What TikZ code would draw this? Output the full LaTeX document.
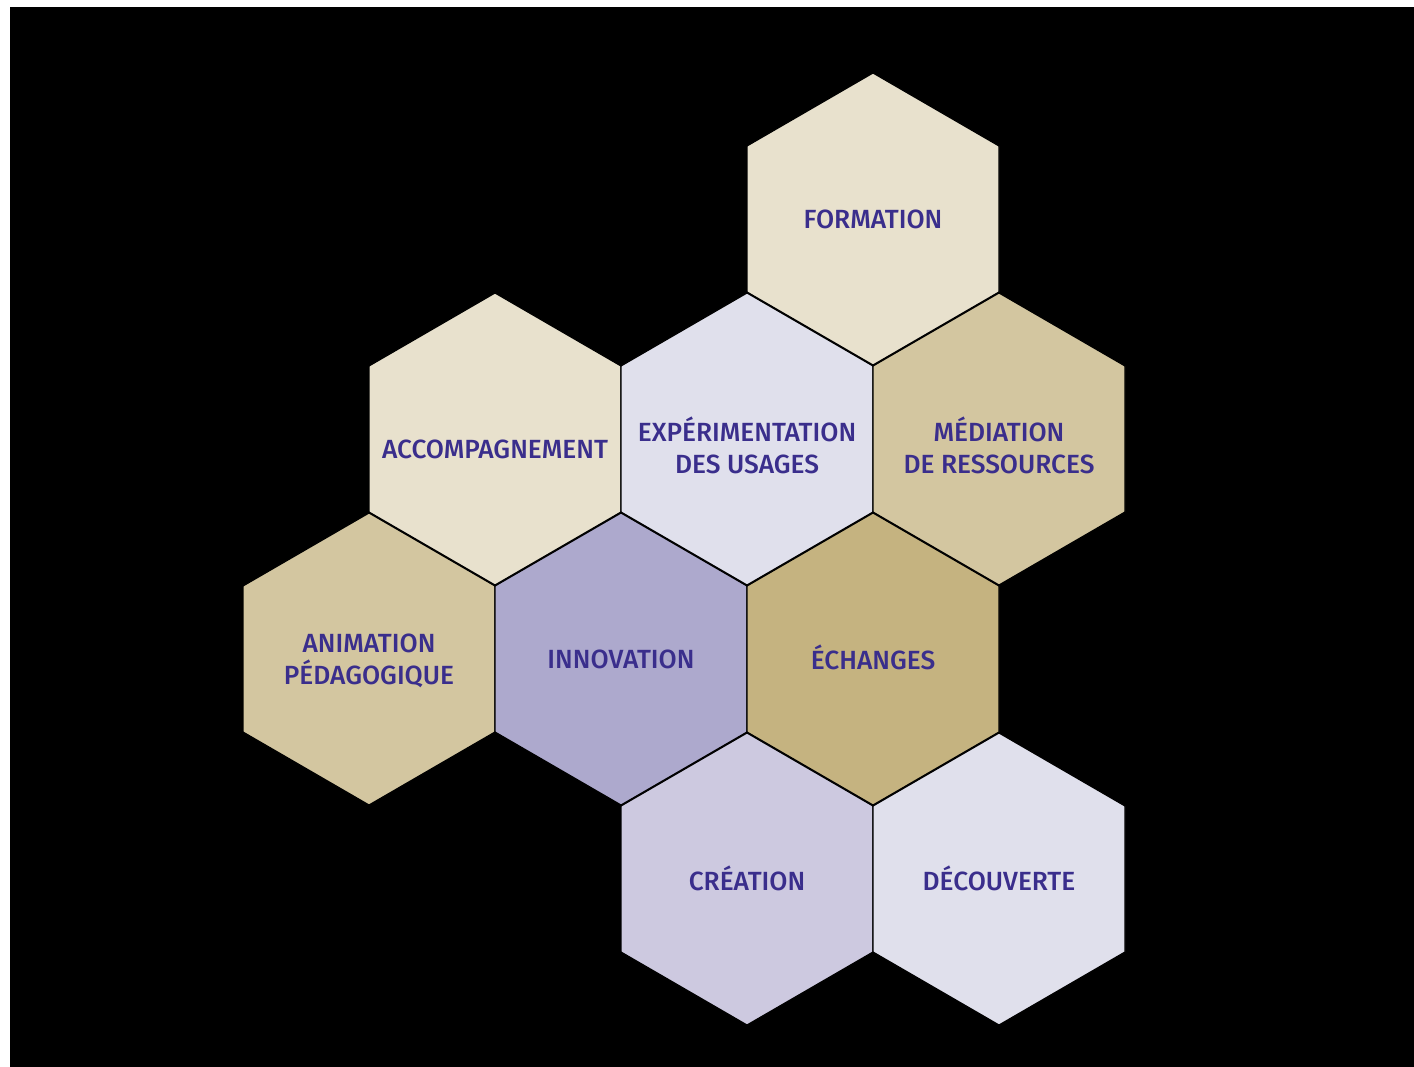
\documentclass[tikz,border=0pt]{standalone}
\usepackage{fontspec}
\setmainfont{Fira Sans}[UprightFont={* Medium}]
\definecolor{txt}{HTML}{3A2E8C}
\definecolor{beigeL}{HTML}{E8E1CD}
\definecolor{tan}{HTML}{D3C6A0}
\definecolor{tanD}{HTML}{C5B380}
\definecolor{lavL}{HTML}{E0E0EC}
\definecolor{lavM}{HTML}{CDC9E0}
\definecolor{purp}{HTML}{ADA9CD}
\tikzset{
  hexborder/.style={draw=black, line width=1.2pt, line join=round},
  hexlabel/.style={text=txt, font=\fontsize{26.3}{32}\selectfont, align=center, inner sep=0pt},
}
\newcommand\hexcell[6]{%
  \begin{scope}[shift={(#2,#3)}]
    \path[hexborder, fill=#4] (0,-146) -- (126,-73) -- (126,73) -- (0,146) -- (-126,73) -- (-126,-73) -- cycle;
  \end{scope}
  \node[hexlabel, yshift=-#6pt] (#1) at (#2,#3) {#5};
}
\begin{document}
\begin{tikzpicture}[x=1pt,y=-1pt]
\useasboundingbox (0,0) rectangle (1414,1067);
\fill[white] (0,0) rectangle (1414,1067);
\fill[black] (10,7) rectangle (1414,1067);
\hexcell{formation}{873}{219}{beigeL}{FORMATION}{0}
\hexcell{accomp}{495}{439}{beigeL}{ACCOMPAGNEMENT}{10}
\hexcell{exper}{747}{439}{lavL}{EXPÉRIMENTATION\\DES USAGES}{6}
\hexcell{mediation}{999}{439}{tan}{MÉDIATION\\DE RESSOURCES}{6}
\hexcell{animation}{369}{659}{tan}{ANIMATION\\PÉDAGOGIQUE}{2}
\hexcell{innovation}{621}{659}{purp}{INNOVATION}{0}
\hexcell{echanges}{873}{659}{tanD}{ÉCHANGES}{-2}
\hexcell{creation}{747}{879}{lavM}{CRÉATION}{-1}
\hexcell{decouverte}{999}{879}{lavL}{DÉCOUVERTE}{-1}
\end{tikzpicture}
\end{document}
